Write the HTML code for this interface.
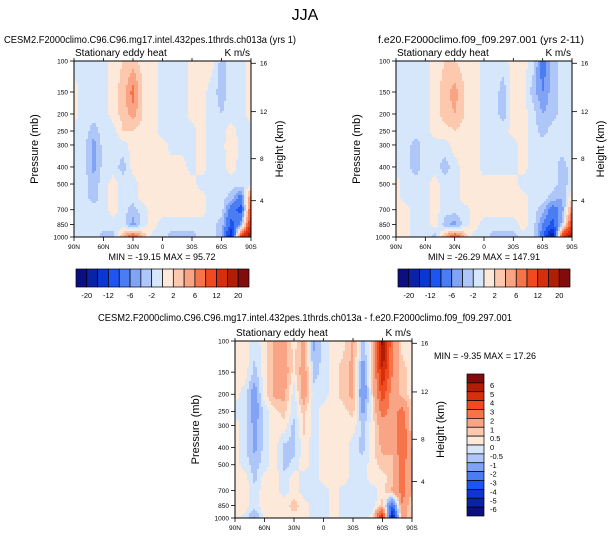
<!DOCTYPE html>
<html><head><meta charset="utf-8"><style>
html,body{margin:0;padding:0;background:#fff;}
svg{display:block;font-family:"Liberation Sans",sans-serif;}
</style></head><body>
<svg id="s" width="609" height="538" viewBox="0 0 609 538" xmlns="http://www.w3.org/2000/svg">
<text x="305" y="20" font-size="16" text-anchor="middle">JJA</text>
<text x="4" y="43" font-size="10.5" textLength="292" lengthAdjust="spacingAndGlyphs">CESM2.F2000climo.C96.C96.mg17.intel.432pes.1thrds.ch013a (yrs 1)</text>
<text x="378" y="43" font-size="10.5" textLength="206" lengthAdjust="spacingAndGlyphs">f.e20.F2000climo.f09_f09.297.001 (yrs 2-11)</text>
<text x="98" y="321" font-size="10.5" textLength="414" lengthAdjust="spacingAndGlyphs">CESM2.F2000climo.C96.C96.mg17.intel.432pes.1thrds.ch013a - f.e20.F2000climo.f09_f09.297.001</text>
<g id="plots"></g>
</svg>
<script>
// ---- data ----
const lats = ["90N","80N","70N","60N","50N","40N","30N","20N","10N","0","10S","20S","30S","40S","50S","60S","70S","80S","90S"];
const pLevels = [100,150,200,250,300,400,500,600,700,850,1000];
const pTicks = [100,150,200,250,300,400,500,700,850,1000];
const xTickLabels = ["90N","60N","30N","0","30S","60S","90S"];
const xTickIdx = [0,3,6,9,12,15,18];
const zTickLabels = ["4","8","12","16"];
const zTickP = [622,359,194,103];
const levelsAB = [-20,-16,-12,-9,-6,-4,-2,0,2,4,6,9,12,16,20];
const labelsAB = ["-20","-12","-6","-2","2","6","12","20"];
const levelsC = [-6,-5,-4,-3,-2,-1,-0.5,0,0.5,1,2,3,4,5,6];
const labelsC = ["6","5","4","3","2","1","0.5","0","-0.5","-1","-2","-3","-4","-5","-6"];
const colors = ['#0b0f82','#0a22a6','#0a36d2','#1d55f2','#4a7cf2','#80a3f5','#afc7f8','#d7e7fb','#fde9da','#fcc9af','#f9a484','#f7744b','#f24a1f','#d62f0c','#b11e06','#820b0b'];
const dataA = [
[-1,-1,-1,-1,1,2,3,1,1,-1,-1,-1,1,1,1,-3,-1,-1,1],
[1,-1,-1,-1,1,3,7,2,1,-1,-1,-1,1,1,-1,-3,-1,-1,1],
[1,-1,-1,-1,1,3,5,2,1,-1,-1,-1,1,1,-1,-2,-1,-1,1],
[-1,-1,-3,-1,-1,2,2,1,1,-1,-1,-1,-1,1,-1,-1,1,-1,-1],
[-1,-1,-5,-1,-1,-1,1,1,1,1,-1,-1,-1,1,-1,-1,2,-1,-1],
[-1,-1,-5,-1,-1,-3,1,1,1,1,1,1,-1,1,-1,-1,1,-1,-1],
[-1,-1,-3,-1,1,-1,-1,1,1,1,1,1,1,-1,-1,-1,-1,-1,-1],
[-1,-1,-3,-1,1,-1,-1,1,1,1,1,1,1,1,-1,-1,-3,-8,8],
[-1,-1,-1,-1,1,-1,-3,-1,1,1,1,1,1,1,-1,-1,-8,-10,10],
[-1,-1,-1,-1,-1,-1,-5,-1,1,-1,-1,-1,-1,-1,-1,-3,-10,-5,14],
[-1,-1,-1,-3,-3,4,10,4,-1,-1,-3,-3,-3,-1,-1,-4,-16,12,20]];
const dataB = [
[-1,-1,-1,-1,1,2,2,1,1,-1,-1,-1,1,1,-1,-8,-3,-1,-1],
[-1,-1,-1,-1,1,3,5,2,1,-1,-1,-3,1,1,-3,-6,-3,-1,-1],
[-1,-1,-1,-1,1,3,4,2,1,-1,-1,-3,1,1,-1,-4,-3,-1,-1],
[-1,-1,-1,-1,1,1,2,1,1,-1,-1,-1,1,1,-1,-3,-1,-1,-1],
[-1,-1,-3,-1,-1,-1,1,1,1,-1,-1,-1,-1,1,-1,-1,-1,-1,-1],
[-1,-1,-3,-1,-1,-3,-1,1,1,-1,-1,-1,-1,1,-1,-1,-1,-3,-1],
[1,-1,-1,-1,1,-1,-1,1,1,1,1,1,1,-1,-1,-1,-1,-3,-1],
[1,-1,-1,-1,1,-1,-1,1,1,1,1,1,1,1,-1,-1,-3,-4,2],
[1,1,-1,-1,1,-1,-1,-1,1,1,1,1,1,1,-1,-3,-8,-5,6],
[1,1,-1,-1,1,-3,-5,-1,1,-1,-1,-1,-1,1,-1,-6,-10,-3,12],
[1,1,-1,-1,-3,4,10,4,-1,-1,-3,-3,-3,-1,-1,-8,-20,12,20]];
const dataC = [
[0.3,0.3,-0.3,0.3,1.2,1.2,0.3,1.2,-1.2,-0.3,0.3,0.3,1.2,-0.7,0.7,6.5,2,0.3,0.3],
[0.3,0.3,-0.7,0.3,1.2,1.5,0.3,1.5,-0.7,-0.3,0.3,0.7,1.2,-1.5,0.7,5,2,0.7,0.3],
[0.3,-0.3,-1.5,0.3,1.2,1.2,-0.3,1.5,-0.3,-0.3,0.3,0.7,1.2,-2,0.7,3.5,1.5,0.7,0.3],
[-0.3,-0.3,-1.5,-0.3,0.3,0.7,-0.3,0.7,-0.3,0.3,0.3,0.3,0.7,-1.2,0.3,2.5,1.5,2.5,0.3],
[0.3,-0.3,-1.2,-0.3,0.3,0.3,-0.7,0.7,-0.3,0.3,0.3,0.3,0.3,-0.7,0.3,1.5,1.2,3,0.3],
[0.3,-0.3,-1.2,-0.3,0.3,-0.7,-0.7,0.3,-0.3,0.3,0.3,0.3,-0.3,-0.7,0.3,1.2,1.2,3,1],
[0.3,-0.3,-0.7,-0.3,0.3,-0.7,-0.3,0.3,-0.3,0.3,0.3,0.3,-0.3,-0.3,0.3,0.7,0.7,2.5,1],
[0.3,0.3,-0.7,0.3,0.3,-0.3,0.3,-0.3,-0.3,0.3,0.3,0.3,-0.3,-0.3,0.3,0.3,0.7,2.5,1],
[0.3,0.3,-0.3,0.3,0.3,-0.3,0.3,-0.3,-0.3,-0.3,0.3,-0.3,-0.3,-0.3,-0.3,0.3,1.2,2.5,1],
[0.3,0.3,-0.3,0.3,0.3,0.3,0.7,0.3,-0.3,-0.3,0.3,-0.3,-0.3,-0.3,-0.3,0.7,-3,2,0.3],
[0.3,-0.3,-1.2,0.3,0.3,0.3,0.3,0.3,-0.3,-0.3,0.3,-0.3,-0.3,-0.3,0.3,5,-6,2,0.3]];
const minmaxA = "MIN = -19.15  MAX =  95.72";
const minmaxB = "MIN = -26.29  MAX = 147.91";
const minmaxC = "MIN =  -9.35  MAX =  17.26";

// ---- drawing ----
const NS = "http://www.w3.org/2000/svg";
const root = document.getElementById('plots');
function mk(tag, attrs, parent, text){
  const e = document.createElementNS(NS, tag);
  for (const k in attrs) e.setAttribute(k, attrs[k]);
  if (text !== undefined) e.textContent = text;
  (parent||root).appendChild(e);
  return e;
}
function levelIndex(v, lev){ let i=0; while(i<lev.length && v>=lev[i]) i++; return i; }
function sample(data, fi, lp){
  const i0 = Math.min(Math.floor(fi), lats.length-2), tx = fi - i0;
  const lps = pLevels.map(p=>Math.log10(p));
  let j0 = 0; while(j0 < lps.length-2 && lp > lps[j0+1]) j0++;
  const ty = Math.max(0, Math.min(1, (lp-lps[j0])/(lps[j0+1]-lps[j0])));
  const a=data[j0][i0], b=data[j0][i0+1], c=data[j0+1][i0], d=data[j0+1][i0+1];
  return (a*(1-tx)+b*tx)*(1-ty) + (c*(1-tx)+d*tx)*ty;
}
function panel(name, x0, y0, w, h, data, lev, minmax, mmx, mmy, mmAnchor){
  const g = mk('g', {});
  
  
  const xs = i => x0 + i*w/(lats.length-1);
  const ys = p => y0 + h*(Math.log10(p)-2);
  const step = 2;
  const cells = mk('g', {'shape-rendering':'crispEdges'}, g);
  
  
  for (let py=0; py<h; py+=step){
    for (let px=0; px<w; px+=step){
      const fi = (px+step/2)/w*(lats.length-1);
      const lp = 2 + (py+step/2)/h;
      const v = sample(data, fi, lp);
      const r = mk('rect', {x:x0+px, y:y0+py, width:Math.min(step,w-px)+0.3, height:Math.min(step,h-py)+0.3, fill:colors[levelIndex(v,lev)]}, cells);
      
      
    }
  }
  const fr = mk('rect', {x:x0, y:y0, width:w, height:h, fill:'none', stroke:'#000', 'stroke-width':1}, g);
  
  
  xTickIdx.forEach((ci,k)=>{
    const x = xs(ci);
    mk('line', {x1:x, x2:x, y1:y0+h, y2:y0+h+4, stroke:'#000','stroke-width':0.8}, g);
    mk('line', {x1:x, x2:x, y1:y0, y2:y0-3, stroke:'#000','stroke-width':0.8}, g);
    const t = mk('text', {x:x, y:y0+h+12, 'font-size':6.5, 'text-anchor':'middle'}, g, xTickLabels[k]);
    
    
  });
  pTicks.forEach(p=>{
    const y = ys(p);
    mk('line', {x1:x0, x2:x0-4, y1:y, y2:y, stroke:'#000','stroke-width':0.8}, g);
    const t = mk('text', {x:x0-6, y:y+2.3, 'font-size':6.5, 'text-anchor':'end'}, g, String(p));
    
    
  });
  zTickP.forEach((p,k)=>{
    const y = ys(p);
    mk('line', {x1:x0+w, x2:x0+w+5, y1:y, y2:y, stroke:'#000','stroke-width':0.8}, g);
    const t = mk('text', {x:x0+w+9, y:y+2.3, 'font-size':6.5}, g, zTickLabels[k]);
    
    
  });
  const yt = mk('text', {x:0, y:0, 'font-size':11, 'text-anchor':'middle', transform:`translate(${x0-36},${y0+h/2}) rotate(-90)`}, g, 'Pressure (mb)');
  
  
  const zt = mk('text', {x:0, y:0, 'font-size':11, 'text-anchor':'middle', transform:`translate(${x0+w+32},${y0+h/2}) rotate(-90)`}, g, 'Height (km)');
  
  
  const st = mk('text', {x:x0+1, y:y0-5, 'font-size':10}, g, 'Stationary eddy heat');
  
  
  const un = mk('text', {x:x0+w-1, y:y0-5, 'font-size':10, 'text-anchor':'end'}, g, 'K m/s');
  
  
  const mm = mk('text', {x:mmx, y:mmy, 'font-size':9, 'text-anchor':mmAnchor, 'xml:space':'preserve'}, g, minmax);
  
  
}
function hbar(name, x0, y0, w, h){
  const g = mk('g', {});
  
  
  const bw = w/colors.length;
  colors.forEach((c,i)=>{
    const r = mk('rect', {x:x0+i*bw, y:y0, width:bw, height:h, fill:c, stroke:'#000','stroke-width':0.7}, g);
    
    
  });
  labelsAB.forEach((l,k)=>{
    const t = mk('text', {x:x0+(1+2*k)*bw, y:y0+h+11, 'font-size':7.5, 'text-anchor':'middle'}, g, l);
    
    
  });
}
function vbar(name, x0, y0, w, h){
  const g = mk('g', {});
  
  
  const bh = h/colors.length;
  colors.slice().reverse().forEach((c,i)=>{
    const r = mk('rect', {x:x0, y:y0+i*bh, width:w, height:bh, fill:c, stroke:'#000','stroke-width':0.7}, g);
    
    
  });
  labelsC.forEach((l,k)=>{
    const t = mk('text', {x:x0+w+6, y:y0+(k+1)*bh+5, 'font-size':7.5}, g, l);
    
    
  });
}
panel('panel-model', 74, 61, 177, 176, dataA, levelsAB, minmaxA, 162, 260, 'middle');
panel('panel-reference', 396, 61, 176, 176, dataB, levelsAB, minmaxB, 484, 260, 'middle');
panel('panel-difference', 235, 341, 177, 177, dataC, levelsC, minmaxC, 434, 359, 'start');
hbar('colorbar-model', 76, 269, 173, 18);
hbar('colorbar-reference', 398, 269, 172, 18);
vbar('colorbar-difference', 467, 374, 17, 142);
</script>
</body></html>
